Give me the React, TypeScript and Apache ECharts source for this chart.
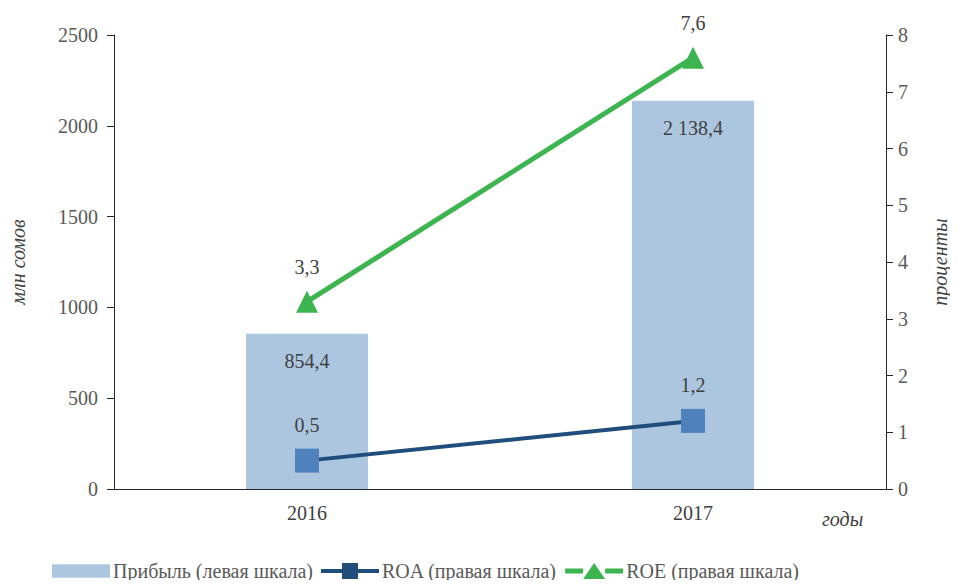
import React, { useEffect, useRef } from "react";
import * as echarts from "echarts";

const categories = ["2016", "2017"];
const profit = [854.4, 2138.4];
const roa = [0.5, 1.2];
const roe = [3.3, 7.6];
const leftTicks = [0, 500, 1000, 1500, 2000, 2500];
const rightTicks = [0, 1, 2, 3, 4, 5, 6, 7, 8];

const FONT = "Liberation Serif";
const fmt = (v: number) => {
  const s = v.toFixed(1).replace(".", ",");
  const [i, d] = s.split(",");
  return i.replace(/\B(?=(\d{3})+(?!\d))/g, " ") + "," + d;
};

export default function App() {
  const ref = useRef<HTMLDivElement>(null);
  useEffect(() => {
    const chart = echarts.init(ref.current!, null, { renderer: "svg" });
    chart.setOption({
      animation: false,
      textStyle: { fontFamily: FONT },
      grid: { left: 113, right: 70, top: 35, bottom: 99 },
      legend: {
        bottom: 2,
        left: 47,
        itemWidth: 58,
        itemHeight: 16,
        itemGap: 8,
        textStyle: { fontFamily: FONT, fontSize: 20, color: "#595959", padding: [0, 0, 0, -2] },
        data: [
          { name: "Прибыль (левая шкала)", icon: "path://M0,1.5h56v13H0z", itemStyle: { color: "#adc6e0" } },
          { name: "ROA (правая шкала)", icon: "path://M0,6h21v4H0z M21,0h16v16H21z M37,6h21v4H37z", itemStyle: { color: "#1f4e7d" } },
          { name: "ROE (правая шкала)", icon: "path://M0,5.5h18v5H0z M18,16L29,0L40,16z M40,5.5h18v5H40z", itemStyle: { color: "#3cb44f" } },
        ],
      },
      graphic: [
        {
          type: "text",
          left: 822,
          top: 509,
          style: { text: "годы", fontFamily: FONT, fontSize: 20, fontStyle: "italic", fill: "#404040" },
        },
      ],
      xAxis: {
        type: "category",
        data: categories,
        axisLine: { lineStyle: { color: "#262626", width: 1 } },
        axisTick: { alignWithLabel: true, length: 7, lineStyle: { color: "#262626" } },
        axisLabel: { fontFamily: FONT, fontSize: 20, color: "#404040", margin: 14 },
      },
      yAxis: [
        {
          type: "value",
          min: leftTicks[0],
          max: leftTicks[leftTicks.length - 1],
          interval: 500,
          name: "млн сомов",
          nameLocation: "middle",
          nameRotate: 90,
          nameGap: 86,
          nameTextStyle: { fontFamily: FONT, fontSize: 20, fontStyle: "italic", color: "#404040" },
          axisLine: { show: true, lineStyle: { color: "#262626" } },
          axisTick: { show: true, length: 7, lineStyle: { color: "#262626" } },
          axisLabel: { fontFamily: FONT, fontSize: 20, color: "#595959", margin: 16, formatter: (v: number) => String(v) },
          splitLine: { show: false },
        },
        {
          type: "value",
          min: rightTicks[0],
          max: rightTicks[rightTicks.length - 1],
          interval: 1,
          name: "проценты",
          nameLocation: "middle",
          nameRotate: 90,
          nameGap: 44,
          nameTextStyle: { fontFamily: FONT, fontSize: 20, fontStyle: "italic", color: "#404040" },
          axisLine: { show: true, lineStyle: { color: "#262626" } },
          axisTick: { show: true, length: 7, lineStyle: { color: "#262626" } },
          axisLabel: { fontFamily: FONT, fontSize: 20, color: "#595959", margin: 12 },
          splitLine: { show: false },
        },
      ],
      series: [
        {
          name: "Прибыль (левая шкала)",
          type: "bar",
          yAxisIndex: 0,
          data: profit,
          barWidth: 122,
          itemStyle: { color: "#adc6e0" },
          label: {
            show: true,
            position: "insideTop",
            distance: 17,
            fontFamily: FONT,
            fontSize: 20,
            color: "#404040",
            formatter: (p: any) => fmt(p.value),
          },
        },
        {
          name: "ROA (правая шкала)",
          type: "line",
          yAxisIndex: 1,
          data: roa,
          symbol: "rect",
          symbolSize: 24,
          lineStyle: { color: "#1f4e7d", width: 4 },
          itemStyle: { color: "#4f81bd" },
          label: {
            show: true,
            position: "top",
            distance: 14,
            fontFamily: FONT,
            fontSize: 20,
            color: "#404040",
            formatter: (p: any) => String(p.value).replace(".", ","),
          },
        },
        {
          name: "ROE (правая шкала)",
          type: "line",
          yAxisIndex: 1,
          data: roe,
          symbol: "triangle",
          symbolSize: 22,
          lineStyle: { color: "#3cb44f", width: 5 },
          itemStyle: { color: "#3cb44f" },
          label: {
            show: true,
            position: "top",
            distance: 14,
            fontFamily: FONT,
            fontSize: 20,
            color: "#404040",
            formatter: (p: any) => String(p.value).replace(".", ","),
          },
        },
      ],
    });
    return () => chart.dispose();
  }, []);
  return (
    <>
      <style>{`.chart-root svg text { font-family: "Liberation Serif", "Times New Roman", serif !important; }`}</style>
      <div className="chart-root" ref={ref} style={{ width: 958, height: 588, margin: -8 }} />
    </>
  );
}
